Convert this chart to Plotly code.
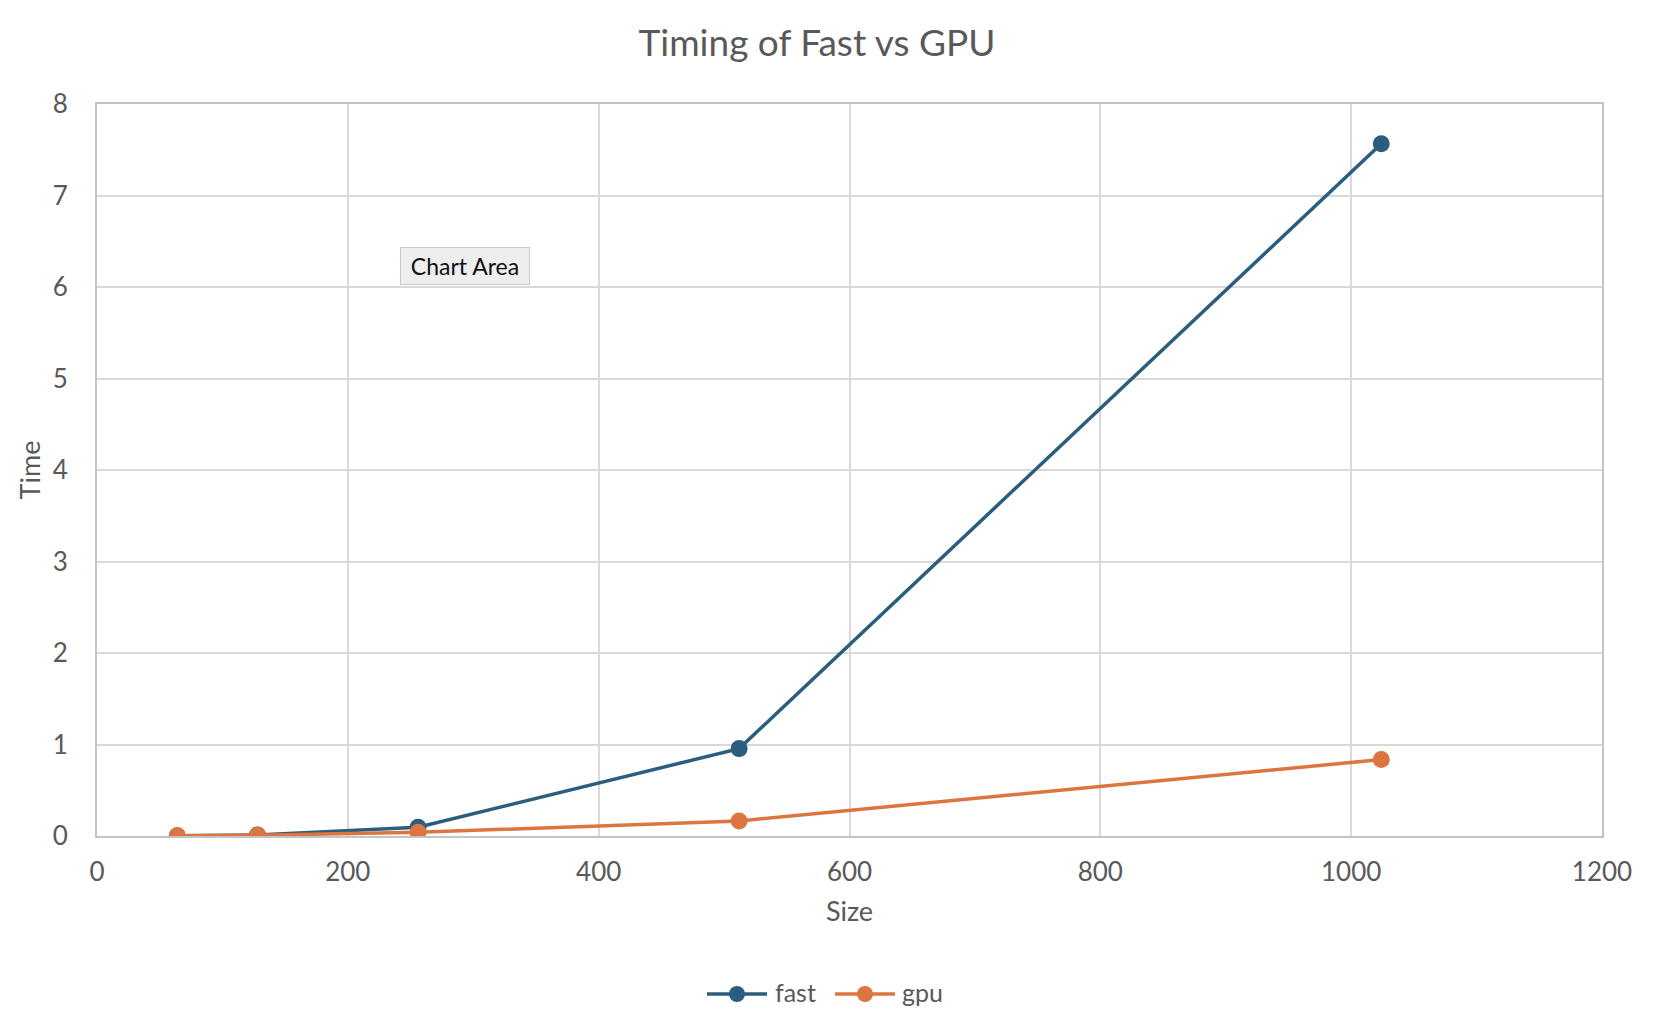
import plotly.graph_objects as go

sizes = [64, 128, 256, 512, 1024]
fast_times = [0.002, 0.012, 0.095, 0.955, 7.565]
gpu_times = [0.003, 0.008, 0.040, 0.165, 0.835]
x_ticks = [0, 200, 400, 600, 800, 1000, 1200]
y_ticks = [0, 1, 2, 3, 4, 5, 6, 7, 8]
series_names = ["fast", "gpu"]

FONT = "Lato"
TXT = "#595959"
BLUE = "#2B5D7E"
ORANGE = "#DC7540"
colors = [BLUE, ORANGE]

W, H = 1662, 1032
ML, MR, MT, MB = 97, 60, 104, 196
PW, PH = W - ML - MR, H - MT - MB


def px_x(px):
    return (px - ML) / PW


def px_y(py):
    return (H - MB - py) / PH


fig = go.Figure()
for name, ys, col in zip(series_names, [fast_times, gpu_times], colors):
    fig.add_trace(go.Scatter(x=sizes, y=ys, name=name, mode="lines+markers",
                             line=dict(color=col, width=3.5),
                             marker=dict(size=17, color=col), showlegend=False))

fig.update_layout(
    width=W, height=H,
    paper_bgcolor="white", plot_bgcolor="white",
    margin=dict(l=ML, r=MR, t=MT, b=MB),
    font=dict(family=FONT, color=TXT, size=25),
    title=dict(text="Timing of Fast vs GPU", x=817 / W, xanchor="center",
               y=1 - 43 / H, yanchor="middle",
               font=dict(size=37, color=TXT, family=FONT)),
    showlegend=False,
)
fig.update_xaxes(range=[0, 1200], tickvals=x_ticks, showgrid=True, gridcolor="#D9D9D9",
                 gridwidth=1.5, zeroline=False, showline=True, linecolor="#C4C4C4",
                 linewidth=2, mirror=True, ticks="", ticklabelstandoff=12,
                 tickfont=dict(size=26),
                 title=dict(text="Size", standoff=16, font=dict(size=27, color=TXT)))
fig.update_yaxes(range=[0, 8], tickvals=y_ticks, showgrid=True, gridcolor="#D9D9D9",
                 gridwidth=1.5, zeroline=False, showline=True, linecolor="#C4C4C4",
                 linewidth=2, mirror=True, ticks="", ticklabelstandoff=22,
                 tickfont=dict(size=26),
                 title=dict(text="Time", standoff=4, font=dict(size=27, color=TXT)))

# custom legend (Excel-style long line symbols)
legend_y = 994
legend_items = [(707, 767, 773), (835, 895, 900)]
for name, col, (x0, x1, tx) in zip(series_names, colors, legend_items):
    fig.add_shape(type="line", xref="paper", yref="paper",
                  x0=px_x(x0), x1=px_x(x1), y0=px_y(legend_y), y1=px_y(legend_y),
                  line=dict(color=col, width=3.5))
    fig.add_shape(type="circle", xref="paper", yref="paper",
                  xsizemode="pixel", ysizemode="pixel",
                  xanchor=px_x((x0 + x1) / 2), yanchor=px_y(legend_y),
                  x0=-8, x1=8, y0=-8, y1=8,
                  fillcolor=col, line=dict(color=col, width=0))
    fig.add_annotation(text=name, xref="paper", yref="paper",
                       x=px_x(tx), y=px_y(legend_y - 2), xanchor="left", yanchor="middle",
                       showarrow=False, font=dict(size=25, color=TXT, family=FONT))

fig.add_annotation(text="Chart Area", xref="paper", yref="paper",
                   x=px_x(465), y=px_y(265.5),
                   xanchor="center", yanchor="middle",
                   showarrow=False, font=dict(size=23, color="#111111", family=FONT),
                   width=120, height=28,
                   bgcolor="#EEEEEE", bordercolor="#C9C9C9", borderwidth=1, borderpad=4)

fig.write_html("out.html", config={"displayModeBar": False},
               post_script="document.body.style.margin='0';document.body.style.overflow='hidden';")
